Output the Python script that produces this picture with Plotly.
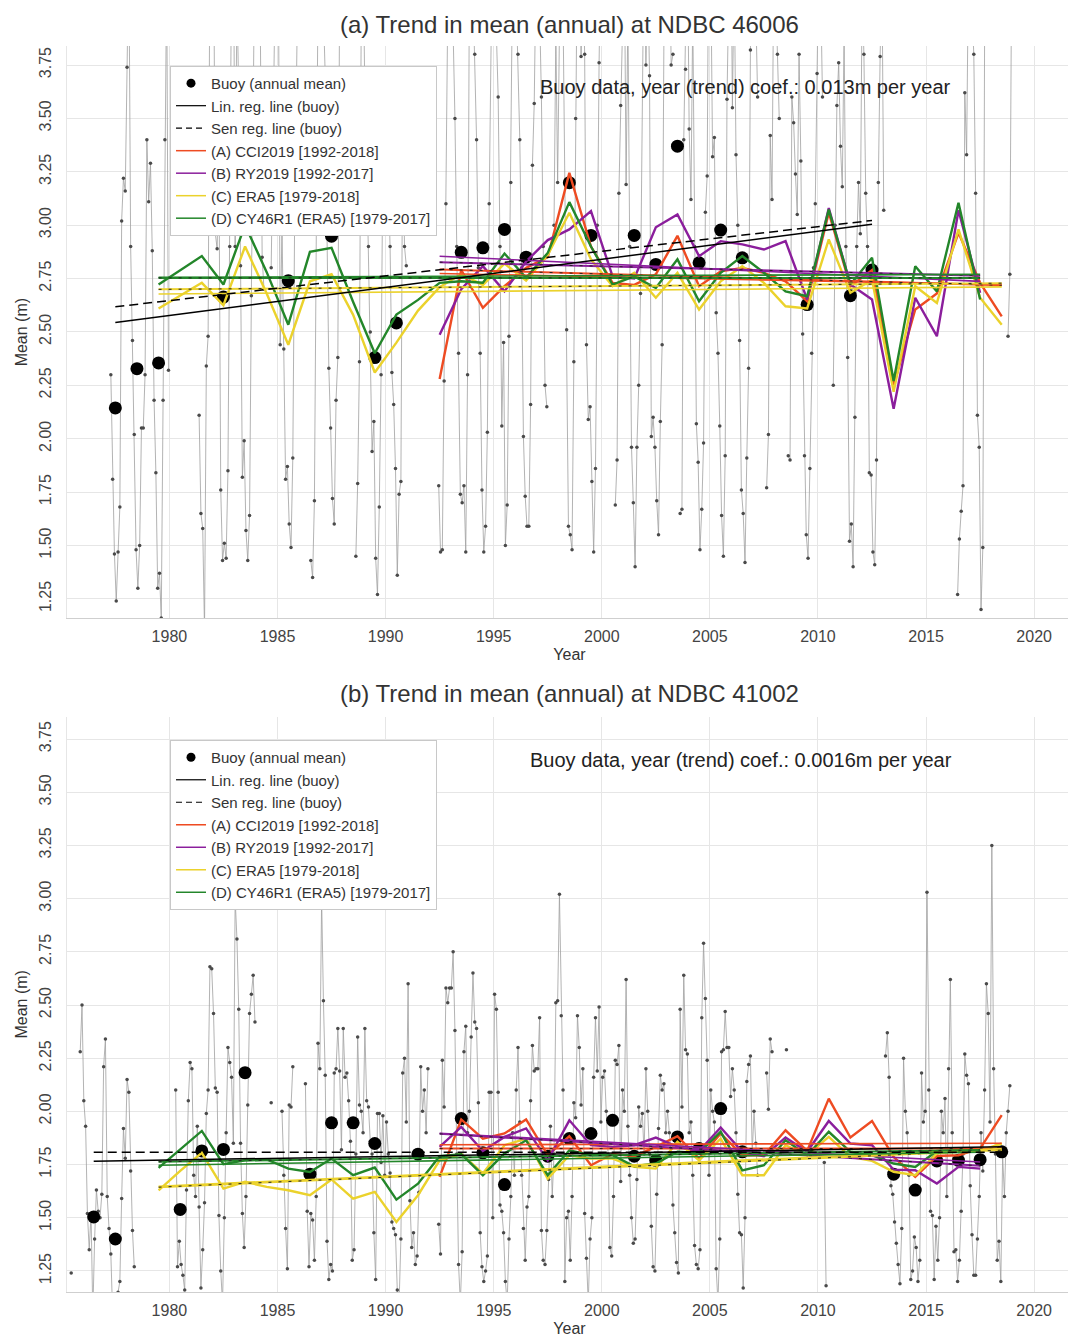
import numpy as np
import plotly.graph_objects as go

n = None

# ---------------- NDBC 46006: monthly buoy means (Jan 1977 .. Dec 2018), metres
month_start_46006 = 1977
monthly_46006 = [
    n, n, n, 2.30, 1.81, 1.46, 1.24, 1.47, 1.68, 3.02, 3.22, 3.16,      # 1977
    3.74, 4.30, 2.90, 2.46, 2.02, 1.48, 1.30, 1.50, 2.05, 2.05, 2.30, 3.40,  # 1978
    3.11, 3.29, 2.88, 2.18, 1.84, 1.30, 1.37, 1.16, 2.18, 3.40, 4.20, 2.32,  # 1979
    n, n, n, n, n, n, n, n, n, n, n, n,                                   # 1980
    n, n, n, n, 2.11, 1.65, 1.58, 1.10, 2.34, 2.48, 4.30, 4.10,           # 1981
    4.40, 2.96, 2.89, 3.30, 1.76, 1.43, 1.51, 1.44, 1.85, 2.90, 4.20, 4.50,  # 1982
    2.90, 4.10, 3.60, 2.81, 1.82, 1.99, 1.57, 1.43, 1.64, 2.67, 4.30, 4.40,  # 1983
    4.30, 4.50, 3.90, 2.85, 2.70, n, n, n, 2.80, 3.50, 4.20, 4.60,        # 1984
    4.20, 2.44, 3.00, 2.42, 1.81, 1.87, 1.60, 1.49, 1.91, 3.00, 4.10, 4.30,  # 1985
    n, n, n, n, n, n, 1.43, 1.35, 1.71, 3.20, 4.10, 4.40,                 # 1986
    4.30, 4.00, 3.70, 2.95, 2.33, 2.05, 1.72, 1.60, 2.18, 2.38, 4.10, 4.50,  # 1987
    n, n, n, n, n, n, n, 1.45, 1.79, 2.36, 4.00, 4.30,                    # 1988
    3.60, 3.30, 2.90, 2.50, 1.94, 2.08, 1.44, 1.27, 1.68, 2.30, 3.30, 3.60,  # 1989
    3.40, 3.20, 2.90, 2.31, 2.16, 1.86, 1.36, 1.74, 1.80, 3.50, 2.90, 2.81,  # 1990
    n, n, n, n, n, n, n, n, n, n, n, n,                                   # 1991
    n, n, n, n, n, 1.78, 1.47, 1.48, 2.27, 3.10, 4.00, 4.30,              # 1992
    4.20, 3.90, 3.50, 2.90, 2.40, 1.74, 1.70, 1.78, 1.47, 2.30, 4.10, 4.30,  # 1993
    4.10, 3.80, 3.40, 2.80, 2.40, 1.76, 1.47, 1.59, 2.03, 3.10, 4.20, 4.50,  # 1994
    4.20, 3.90, 3.60, 2.90, 2.06, 2.45, 1.50, 1.69, 2.48, 3.20, 4.20, 4.40,  # 1995
    4.10, 3.80, 3.40, 2.80, 2.01, 1.73, 1.59, 1.59, 2.16, 3.28, 3.57, 4.20,  # 1996
    4.30, 4.00, 3.60, 2.90, 2.25, 2.15, n, n, n, 3.00, 3.90, 3.20,        # 1997
    4.30, 4.60, 4.00, 3.20, 2.51, 1.59, 1.55, 1.48, 2.36, 3.50, 4.40, 4.60,  # 1998
    3.79, 4.20, 3.80, 2.44, 2.09, 2.15, 1.80, 1.47, 1.86, 3.00, 3.76, 4.30,  # 1999
    n, n, n, n, n, n, n, 1.69, 1.90, 3.15, 3.56, 4.20,                    # 2000
    4.30, 3.19, 4.00, 2.90, 1.96, 1.70, 1.40, 1.96, 2.25, 2.68, 4.10, 4.40,  # 2001
    3.75, 4.20, 3.70, 2.01, 2.10, 1.96, 1.71, 1.55, 2.08, 2.44, 3.90, 4.20,  # 2002
    4.30, 4.50, 3.75, 3.80, n, n, n, 1.65, 1.67, 3.40, 3.73, 4.40,        # 2003
    3.45, 3.12, 4.00, 2.90, 2.07, 1.89, 1.48, 1.67, 1.98, 3.06, 3.23, 4.60,  # 2004
    4.20, 3.32, 3.41, 2.59, 2.40, 2.06, 1.64, 1.45, 1.92, 3.59, 4.30, 4.60,  # 2005
    3.55, 4.20, 3.33, 3.00, 2.46, 1.76, 1.65, 1.42, 1.91, 2.33, 3.82, 4.30,  # 2006
    4.20, 4.00, 3.60, n, n, n, n, 1.77, 2.02, 3.42, 3.12, 4.30,           # 2007
    4.10, 3.80, 3.50, n, n, n, n, 1.92, 1.90, 3.60, 3.48, 3.24,           # 2008
    3.05, 3.80, 3.30, 2.49, 1.92, 1.55, 1.44, 1.86, 2.40, 2.80, 3.10, 3.71,  # 2009
    4.30, 4.10, 3.60, n, n, n, n, n, 2.25, 3.00, 3.56, 3.76,              # 2010
    3.37, 3.18, 3.90, 2.90, 2.38, 1.52, 1.60, 1.40, 2.10, 2.90, 3.20, 2.96,  # 2011
    4.10, 3.80, 3.15, 2.90, 1.84, 1.83, 1.47, 1.41, 1.90, 3.20, 3.79, 4.20,  # 2012
    3.07, n, n, n, n, n, n, n, n, n, n, n,                                # 2013
    n, n, n, n, n, n, n, n, n, n, n, n,                                   # 2014
    n, n, n, n, n, n, n, n, n, n, n, n,                                   # 2015
    n, n, n, n, n, 1.27, 1.53, 1.66, 1.78, 3.62, 3.33, 4.20,              # 2016
    4.30, 4.00, 3.80, 3.15, 2.11, 1.96, 1.20, 1.49, 3.90, n, n, n,        # 2017
    n, n, n, n, n, n, n, n, n, 2.48, 2.77, 4.20,                          # 2018
]

# ---------------- NDBC 41002: monthly buoy means (Jan 1975 .. Dec 2018), metres
month_start_41002 = 1975
monthly_41002 = [
    n, n, n, n, n, 1.24, n, n, n, n, 2.28, 2.50,                          # 1975
    2.05, 1.93, 1.52, 1.35, 1.52, 1.05, 1.40, 1.63, 1.53, 1.50, 1.61, 2.21,  # 1976
    2.34, 1.60, 1.45, 1.33, 1.05, 1.10, 1.10, 1.15, 1.20, 1.59, 1.92, 1.78,  # 1977
    2.15, 2.09, 1.72, 1.44, 1.27, n, n, n, n, n, n, n,                    # 1978
    n, n, n, n, n, n, n, n, n, n, n, n,                                   # 1979
    n, n, n, 2.10, 1.27, 1.39, 1.28, 1.23, 1.16, 1.63, 2.05, 2.23,        # 1980
    2.20, 1.70, 1.60, 1.93, 1.55, 1.17, 1.35, 1.57, 1.99, 2.10, 2.68, 2.67,  # 1981
    2.46, 2.11, 2.09, 1.51, 1.25, 1.10, 1.50, 1.90, 2.30, 2.23, 2.16, 1.85,  # 1982
    3.00, 2.81, 2.48, 1.85, 1.52, 1.36, 1.60, 2.03, 2.46, 2.55, 2.64, 2.42,  # 1983
    n, n, n, n, n, n, n, n, 2.04, n, n, n,                                # 1984
    n, n, 2.00, 1.70, 1.45, 1.26, 2.03, 2.02, 2.21, n, n, n,              # 1985
    n, n, n, 2.13, 1.53, 1.27, 1.52, 1.49, 1.30, 1.60, 2.32, 2.20,        # 1986
    3.00, 2.52, 2.17, 1.39, 1.21, 1.28, 1.25, 2.18, 2.20, 2.39, 2.19, 1.82,  # 1987
    2.39, 2.16, 2.18, 2.05, 1.86, 1.30, 1.35, 1.80, 2.35, 2.03, 2.00, 1.90,  # 1988
    2.39, 2.05, 2.02, 1.86, 1.80, 1.43, 1.21, 1.99, 1.99, 1.76, 1.98, 1.70,  # 1989
    1.95, 1.80, 1.71, 1.48, 1.45, 1.42, 1.16, 1.10, 1.40, 2.18, 2.25, 1.95,  # 1990
    2.60, 1.58, 1.36, 1.43, 1.28, 1.32, 1.62, 2.21, 2.00, 2.10, 1.90, 2.20,  # 1991
    n, n, n, n, n, 1.47, 1.33, 2.24, 2.02, 2.58, 2.51, 2.58,              # 1992
    2.58, 2.75, 2.38, 1.80, 1.28, 1.10, 1.34, 2.28, 2.40, 1.90, 2.00, 2.35,  # 1993
    2.65, 2.42, 2.39, 2.04, 1.43, 1.27, 1.20, 1.25, 1.32, 2.09, 2.09, 1.50,  # 1994
    2.55, 2.48, 2.09, 1.56, 1.53, 1.43, 1.20, 1.10, 1.40, 1.60, 1.90, 1.70,  # 1995
    2.10, 2.30, 1.95, 1.70, 1.45, 1.30, 1.55, 1.60, 2.05, 2.31, 2.19, 2.20,  # 1996
    2.20, 2.44, 1.44, 1.30, 1.28, 1.44, 1.68, 1.93, 1.60, 1.80, 2.51, 2.52,  # 1997
    3.02, 2.45, 2.10, 1.20, 1.50, 1.53, 1.30, 1.60, 2.04, 1.97, 2.45, 2.30,  # 1998
    2.03, 2.20, 1.52, 1.31, 1.10, 1.40, 1.50, 2.16, 2.44, 2.19, 2.49, 1.95,  # 1999
    2.16, 2.19, 2.00, 1.80, 1.36, 1.32, 1.60, 2.24, 2.22, 2.31, 1.67, 2.10,  # 2000
    2.00, 2.62, 1.93, 1.70, 1.50, 1.38, 1.40, 1.68, 2.02, 1.93, 1.99, 1.80,  # 2001
    2.20, 2.00, 1.80, 1.46, 1.27, 1.25, 1.61, 1.92, 2.17, 2.10, 2.13, 1.90,  # 2002
    2.00, 1.90, 1.80, 1.56, 1.43, 1.29, 1.24, 2.48, 2.02, 2.64, 2.29, 2.27,  # 2003
    1.90, 1.95, 1.70, 1.37, 1.28, 1.26, 1.35, 2.44, 2.79, 2.53, 2.24, 1.70,  # 2004
    2.10, 2.00, 1.95, 1.26, 1.10, 1.40, 2.28, 2.29, 2.47, 2.30, 2.30, 2.07,  # 2005
    2.20, 2.10, 1.90, 1.61, 1.43, 1.42, 1.17, 1.50, 2.14, 2.22, 2.26, 1.80,  # 2006
    2.00, 1.85, 1.70, n, n, n, n, 2.18, 2.01, 2.34, 2.28, n,              # 2007
    n, n, n, n, n, n, 2.29, n, n, n, n, n,                                # 2008
    n, n, n, n, n, n, n, n, n, n, n, n,                                   # 2009
    n, n, n, 1.76, 1.18, n, n, n, n, n, n, n,                             # 2010
    n, n, n, n, n, n, n, n, n, n, n, n,                                   # 2011
    n, n, n, n, n, n, n, n, n, n, n, n,                                   # 2012
    n, 2.26, 2.37, 2.16, 1.65, 1.61, 1.48, 1.38, 1.28, 1.19, 1.45, 2.25,  # 2013
    2.00, 1.90, 1.70, 1.21, 1.25, 1.41, 1.36, 1.20, 1.30, 2.18, 1.95, 2.00,  # 2014
    3.03, 2.10, 1.53, 1.51, 1.21, 1.46, 1.30, 1.50, 2.00, 1.90, 2.06, 1.60,  # 2015
    2.20, 2.62, 1.90, 1.34, 1.35, 1.20, 1.30, 1.53, 1.80, 2.27, 2.17, 2.13,  # 2016
    1.65, 1.42, 1.23, 1.23, 1.40, 1.60, 1.90, 1.72, 2.10, 2.60, 2.46, 1.95,  # 2017
    3.25, 2.20, 1.80, 1.30, 1.39, 1.20, 1.79, 1.60, 1.90, 2.00, 2.12, n,  # 2018
]

# ---------------- buoy annual means
annual_years_46006 = [1977, 1978, 1979, 1982, 1983, 1985, 1987, 1989, 1990, 1993, 1994, 1995,
                      1996, 1998, 1999, 2001, 2002, 2003, 2004, 2005, 2006, 2009, 2011, 2012]
annual_46006 = [2.144, 2.328, 2.355, 2.663, 3.00, 2.74, 2.948, 2.38, 2.542, 2.873, 2.894, 2.98,
                2.85, 3.199, 2.952, 2.952, 2.816, 3.37, 2.824, 2.977, 2.847, 2.628, 2.67, 2.79]

annual_years_41002 = [1976, 1977, 1980, 1981, 1982, 1983, 1986, 1987, 1988, 1989, 1991, 1993,
                      1994, 1995, 1997, 1998, 1999, 2000, 2001, 2002, 2003, 2004, 2005, 2006,
                      2013, 2014, 2015, 2016, 2017, 2018]
annual_41002 = [1.504, 1.40, 1.539, 1.814, 1.821, 2.182, 1.705, 1.946, 1.946, 1.849, 1.799, 1.966,
                1.805, 1.656, 1.789, 1.872, 1.896, 1.958, 1.789, 1.77, 1.88, 1.825, 2.013, 1.81,
                1.705, 1.63, 1.767, 1.77, 1.773, 1.81]

# ---------------- model annual means
years_A = list(range(1992, 2019))
years_B = list(range(1992, 2018))
years_C = list(range(1979, 2019))
years_D = list(range(1979, 2018))

A_46006 = [2.28, 2.79, 2.613, 2.714, 2.80, 2.85, 3.245, 2.90, 2.73, 2.72, 2.77, 2.95, 2.714, 2.784,
           2.80, 2.777, 2.737, 2.644, 3.058, 2.714, 2.79, 2.25, 2.605, 2.68, 2.964, 2.73, 2.573]
B_46006 = [2.487, 2.70, 2.808, 2.69, 2.83, 2.93, 2.98, 3.066, 2.76, 2.75, 2.99, 3.05, 2.855, 2.925,
           2.91, 2.886, 2.925, 2.652, 3.08, 2.722, 2.652, 2.14, 2.66, 2.48, 3.07, 2.683]
C_46006 = [2.61, 2.67, 2.73, 2.625, 2.90, 2.68, 2.44, 2.737, 2.77, 2.58, 2.31, 2.45, 2.60,
           2.71, 2.77, 2.72, 2.82, 2.74, 2.86, 3.058, 2.84, 2.714, 2.777, 2.66, 2.777, 2.605,
           2.737, 2.808, 2.73, 2.62, 2.61, 2.933, 2.683, 2.745, 2.22, 2.714, 2.636, 2.98, 2.66, 2.534]
D_46006 = [2.722, 2.79, 2.855, 2.722, 3.00, 2.78, 2.534, 2.875, 2.894, 2.64, 2.40, 2.581, 2.65,
           2.73, 2.737, 2.73, 2.867, 2.753, 2.87, 3.108, 2.90, 2.722, 2.76, 2.706, 2.84, 2.644,
           2.777, 2.855, 2.777, 2.69, 2.667, 3.073, 2.722, 2.847, 2.27, 2.808, 2.69, 3.105, 2.652]

A_41002 = [1.692, 1.962, 1.872, 1.896, 1.962, 1.794, 1.883, 1.747, 1.80, 1.789, 1.833, 1.883, 1.778,
           1.896, 1.794, 1.794, 1.911, 1.814, 2.06, 1.877, 1.955, 1.786, 1.692, 1.79, 1.794, 1.825, 1.982]
B_41002 = [1.833, 1.927, 1.814, 1.88, 1.92, 1.77, 1.958, 1.841, 1.833, 1.841, 1.877, 1.833, 1.814,
           1.924, 1.81, 1.789, 1.877, 1.81, 1.955, 1.849, 1.841, 1.726, 1.723, 1.661, 1.739, 1.731]
C_41002 = [1.629, 1.72, 1.805, 1.637, 1.669, 1.645, 1.629, 1.606, 1.68, 1.59, 1.622, 1.48, 1.606,
           1.77, 1.80, 1.708, 1.841, 1.872, 1.684, 1.794, 1.778, 1.778, 1.739, 1.731, 1.857, 1.77,
           1.872, 1.70, 1.70, 1.841, 1.794, 1.88, 1.786, 1.767, 1.716, 1.70, 1.802, 1.817, 1.814, 1.849]
D_41002 = [1.734, 1.82, 1.908, 1.752, 1.77, 1.774, 1.731, 1.715, 1.778, 1.70, 1.736, 1.585, 1.66,
           1.789, 1.799, 1.70, 1.802, 1.864, 1.70, 1.817, 1.794, 1.794, 1.742, 1.755, 1.81, 1.805,
           1.904, 1.723, 1.747, 1.864, 1.794, 1.904, 1.81, 1.794, 1.755, 1.739, 1.814, 1.817, 1.825]

model_names = ["(A) CCI2019 [1992-2018]", "(B) RY2019 [1992-2017]",
               "(C) ERA5 [1979-2018]", "(D) CY46R1 (ERA5) [1979-2017]"]
model_colors = ["#EE4B22", "#8B1E9C", "#EBD22C", "#23862A"]

titles = ["(a) Trend in mean (annual) at NDBC 46006", "(b) Trend in mean (annual) at NDBC 41002"]
coef_texts = ["Buoy data, year (trend) coef.: 0.013m per year",
              "Buoy data, year (trend) coef.: 0.0016m per year"]

FONT = "Liberation Sans, Arial, Helvetica, sans-serif"


def lin_fit(x, y):
    s, b = np.polyfit(np.asarray(x, float), np.asarray(y, float), 1)
    return s, b


def sen_fit(x, y):
    x = np.asarray(x, float)
    y = np.asarray(y, float)
    sl = [(y[j] - y[i]) / (x[j] - x[i]) for i in range(len(x)) for j in range(i + 1, len(x))]
    s = float(np.median(sl))
    b = float(np.median(y - s * x))
    return s, b


fig = go.Figure()

stations = [
    dict(start=month_start_46006, monthly=monthly_46006, ay=annual_years_46006, av=annual_46006,
         models=[(years_A, A_46006), (years_B, B_46006), (years_C, C_46006), (years_D, D_46006)]),
    dict(start=month_start_41002, monthly=monthly_41002, ay=annual_years_41002, av=annual_41002,
         models=[(years_A, A_41002), (years_B, B_41002), (years_C, C_41002), (years_D, D_41002)]),
]

for k, st in enumerate(stations):
    xa = "x" if k == 0 else "x2"
    ya = "y" if k == 0 else "y2"
    lg = "legend" if k == 0 else "legend2"
    mx = [st["start"] + (i + 0.5) / 12.0 for i in range(len(st["monthly"]))]
    fig.add_trace(go.Scatter(x=mx, y=st["monthly"], mode="lines+markers", xaxis=xa, yaxis=ya,
                             line=dict(color="#a0a0a0", width=0.8),
                             marker=dict(color="#4a4a4a", size=3.5),
                             showlegend=False, hoverinfo="skip", connectgaps=False))
    ax = [y + 0.5 for y in st["ay"]]
    fig.add_trace(go.Scatter(x=ax, y=st["av"], mode="markers", xaxis=xa, yaxis=ya,
                             marker=dict(color="black", size=13), showlegend=False))
    # model annual series
    for (yrs, vals), col in zip(st["models"], model_colors):
        fig.add_trace(go.Scatter(x=[y + 0.5 for y in yrs], y=vals, mode="lines", xaxis=xa, yaxis=ya,
                                 line=dict(color=col, width=2.4), showlegend=False))
    # model trend lines
    for (yrs, vals), col in zip(st["models"], model_colors):
        xx = np.array([yrs[0] + 0.5, yrs[-1] + 0.5])
        xv = [y + 0.5 for y in yrs]
        s, b = lin_fit(xv, vals)
        fig.add_trace(go.Scatter(x=xx, y=s * xx + b, mode="lines", xaxis=xa, yaxis=ya,
                                 line=dict(color=col, width=1.6), showlegend=False))
        s2, b2 = sen_fit(xv, vals)
        fig.add_trace(go.Scatter(x=xx, y=s2 * xx + b2, mode="lines", xaxis=xa, yaxis=ya,
                                 line=dict(color=col, width=2.0), showlegend=False))
        fig.add_trace(go.Scatter(x=xx, y=s2 * xx + b2, mode="lines", xaxis=xa, yaxis=ya,
                                 line=dict(color="#222222", width=1.0, dash="3px,7px"),
                                 showlegend=False))
    # buoy trend lines
    xx = np.array([ax[0], ax[-1]])
    s, b = lin_fit(ax, st["av"])
    fig.add_trace(go.Scatter(x=xx, y=s * xx + b, mode="lines", xaxis=xa, yaxis=ya,
                             line=dict(color="black", width=1.5), showlegend=False))
    s2, b2 = sen_fit(ax, st["av"])
    fig.add_trace(go.Scatter(x=xx, y=s2 * xx + b2, mode="lines", xaxis=xa, yaxis=ya,
                             line=dict(color="black", width=1.5, dash="9px,5px"), showlegend=False))

    # legend entries
    fig.add_trace(go.Scatter(x=[None], y=[None], mode="markers", xaxis=xa, yaxis=ya, legend=lg,
                             marker=dict(color="black", size=9), name="Buoy (annual mean)"))
    fig.add_trace(go.Scatter(x=[None], y=[None], mode="lines", xaxis=xa, yaxis=ya, legend=lg,
                             line=dict(color="black", width=1.2), name="Lin. reg. line (buoy)"))
    fig.add_trace(go.Scatter(x=[None], y=[None], mode="lines", xaxis=xa, yaxis=ya, legend=lg,
                             line=dict(color="black", width=1.2, dash="6px,4px"),
                             name="Sen reg. line (buoy)"))
    for name, col in zip(model_names, model_colors):
        fig.add_trace(go.Scatter(x=[None], y=[None], mode="lines", xaxis=xa, yaxis=ya, legend=lg,
                                 line=dict(color=col, width=1.5), name=name))

xcommon = dict(range=[1975.264, 2021.75], tickmode="linear", tick0=1980, dtick=5,
               showgrid=True, gridcolor="#e6e6e6", gridwidth=1, zeroline=False,
               showline=True, linecolor="#cfcfcf", ticks="", automargin=False,
               ticklabelstandoff=4,
               tickfont=dict(size=16, color="#444444", family=FONT),
               title=dict(text="Year", font=dict(size=16, color="#333333", family=FONT), standoff=4))
ycommon = dict(tickmode="linear", tick0=1.25, dtick=0.25, tickformat=".2f", tickangle=-90,
               showgrid=True, gridcolor="#e6e6e6", gridwidth=1, zeroline=False,
               showline=True, linecolor="#e6e6e6", ticks="", ticklabelstandoff=9, automargin=False,
               tickfont=dict(size=16, color="#444444", family=FONT),
               title=dict(text="Mean (m)", font=dict(size=16, color="#333333", family=FONT), standoff=4))

legcommon = dict(xanchor="left", yanchor="top", bgcolor="white", bordercolor="#c8c8c8",
                 borderwidth=1, font=dict(size=15, color="#333333", family=FONT),
                 itemwidth=30, tracegroupgap=0, traceorder="normal")

# the page body adds an 8 px offset, so the figure is drawn 8 px smaller and shifted
fig.update_layout(
    width=1068, height=1329,
    margin=dict(l=59, r=4, t=38, b=45, autoexpand=False),
    paper_bgcolor="white", plot_bgcolor="white",
    font=dict(family=FONT, color="#333333"),
    xaxis=dict(domain=[0, 1], anchor="y", **xcommon),
    yaxis=dict(domain=[0.5407, 1.0], anchor="x", range=[1.159, 3.839], **ycommon),
    xaxis2=dict(domain=[0, 1], anchor="y2", **xcommon),
    yaxis2=dict(domain=[0.0, 0.4617], anchor="x2", range=[1.151, 3.855], **ycommon),
    legend=dict(x=0.1025, y=0.984, **legcommon),
    legend2=dict(x=0.1025, y=0.443, **legcommon),
    annotations=[
        dict(text=titles[0], x=0.5, y=1.0297, xref="paper", yref="paper", showarrow=False,
             xanchor="center", yanchor="top", font=dict(size=24, color="#333333", family=FONT)),
        dict(text=titles[1], x=0.5, y=0.4807, xref="paper", yref="paper", showarrow=False,
             xanchor="center", yanchor="middle", font=dict(size=24, color="#333333", family=FONT)),
        dict(text=coef_texts[0], x=0.675, y=0.967, xref="paper", yref="paper", showarrow=False,
             xanchor="center", yanchor="middle", font=dict(size=20, color="#222222", family=FONT)),
        dict(text=coef_texts[1], x=0.671, y=0.427, xref="paper", yref="paper", showarrow=False,
             xanchor="center", yanchor="middle", font=dict(size=20, color="#222222", family=FONT)),
    ],
)

fig.write_html("out.html")
